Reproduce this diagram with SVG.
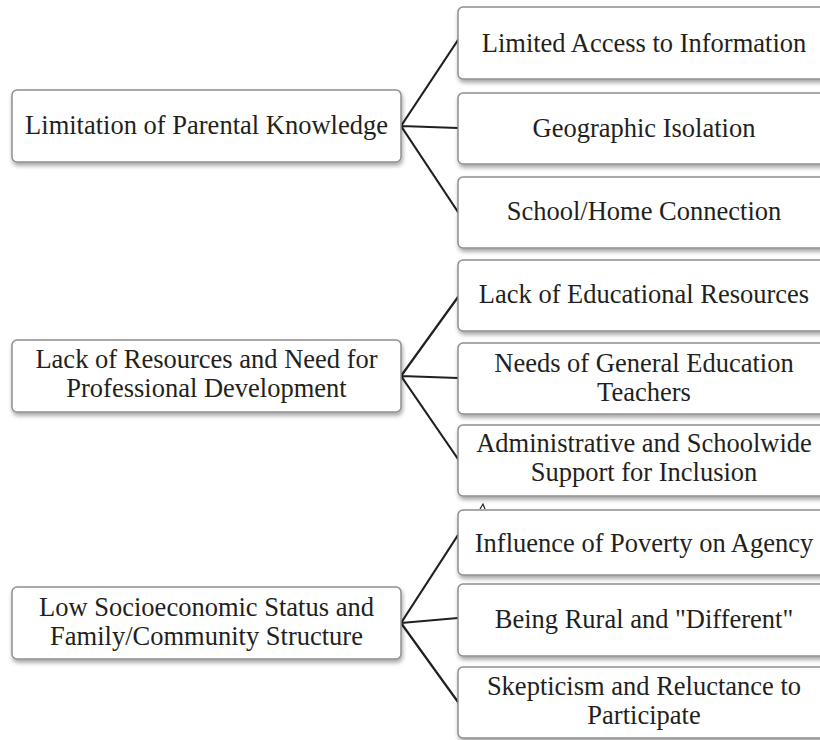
<svg xmlns="http://www.w3.org/2000/svg" width="820" height="740" viewBox="0 0 820 740">
  <defs>
    <filter id="shadow" x="-5%" y="-10%" width="110%" height="130%">
      <feDropShadow dx="1" dy="3" stdDeviation="2" flood-color="#000" flood-opacity="0.35"/>
    </filter>
    <style>
      .box { fill: #ffffff; stroke: #8f8f8f; stroke-width: 1.5; filter: url(#shadow); }
      .lbl { font-family: "Liberation Serif", "Times New Roman", serif; font-size: 26.5px; fill: #231f20; text-anchor: middle; }
      .conn { stroke: #231f20; stroke-width: 2.2; fill: none; stroke-linecap: round; }
    </style>
  </defs>
  <rect width="820" height="740" fill="#ffffff"/>

  <!-- connectors -->
  <g id="connectors">
    <path class="conn" d="M401,126 L458,40 M401,126 L458,128 M401,126 L458,212"/>
    <path class="conn" d="M401,376 L458,297 M401,376 L458,378 M401,376 L458,459"/>
    <path class="conn" d="M401,623 L458,535 M401,623 L458,618 M401,623 L458,702"/>
    <path d="M480,509 L483,504 L485,509" stroke="#231f20" stroke-width="1.2" fill="none"/>
  </g>

  <!-- group 1 -->
  <g id="parent-knowledge">
    <rect class="box" x="12" y="90" width="389" height="72" rx="5"/>
    <text class="lbl" x="206.5" y="134">Limitation of Parental Knowledge</text>
  </g>
  <g id="limited-access">
    <rect class="box" x="458" y="7" width="372" height="72" rx="5"/>
    <text class="lbl" x="644" y="52">Limited Access to Information</text>
  </g>
  <g id="geographic-isolation">
    <rect class="box" x="458" y="93" width="372" height="71" rx="5"/>
    <text class="lbl" x="644" y="137">Geographic Isolation</text>
  </g>
  <g id="school-home">
    <rect class="box" x="458" y="177" width="372" height="71" rx="5"/>
    <text class="lbl" x="644" y="220">School/Home Connection</text>
  </g>

  <!-- group 2 -->
  <g id="resources-pd">
    <rect class="box" x="12" y="340" width="389" height="72" rx="5"/>
    <text class="lbl" x="206.5" y="368">Lack of Resources and Need for</text>
    <text class="lbl" x="206.5" y="397">Professional Development</text>
  </g>
  <g id="educational-resources">
    <rect class="box" x="458" y="260" width="372" height="71" rx="5"/>
    <text class="lbl" x="644" y="303">Lack of Educational Resources</text>
  </g>
  <g id="gen-ed-teachers">
    <rect class="box" x="458" y="343" width="372" height="71" rx="5"/>
    <text class="lbl" x="644" y="372">Needs of General Education</text>
    <text class="lbl" x="644" y="401">Teachers</text>
  </g>
  <g id="admin-support">
    <rect class="box" x="458" y="425" width="372" height="71" rx="5"/>
    <text class="lbl" x="644" y="452">Administrative and Schoolwide</text>
    <text class="lbl" x="644" y="481">Support for Inclusion</text>
  </g>

  <!-- group 3 -->
  <g id="ses-family">
    <rect class="box" x="12" y="587" width="389" height="72" rx="5"/>
    <text class="lbl" x="206.5" y="616">Low Socioeconomic Status and</text>
    <text class="lbl" x="206.5" y="645">Family/Community Structure</text>
  </g>
  <g id="poverty-agency">
    <rect class="box" x="458" y="510" width="372" height="65" rx="5"/>
    <text class="lbl" x="644" y="552">Influence of Poverty on Agency</text>
  </g>
  <g id="rural-different">
    <rect class="box" x="458" y="584" width="372" height="72" rx="5"/>
    <text class="lbl" x="644" y="628">Being Rural and "Different"</text>
  </g>
  <g id="skepticism">
    <rect class="box" x="458" y="667" width="372" height="71" rx="5"/>
    <text class="lbl" x="644" y="695">Skepticism and Reluctance to</text>
    <text class="lbl" x="644" y="724">Participate</text>
  </g>
</svg>
